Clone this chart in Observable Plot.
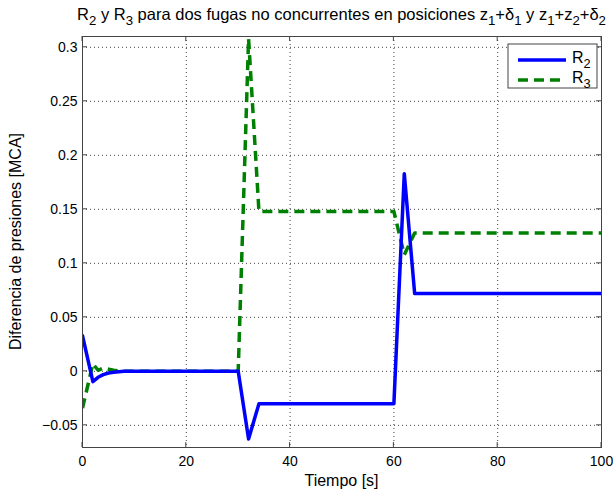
<!DOCTYPE html>
<html>
<head>
<meta charset="utf-8">
<script src="https://cdn.jsdelivr.net/npm/d3@7"></script>
<script src="https://cdn.jsdelivr.net/npm/@observablehq/plot@0.6"></script>
<style>
  html, body { margin: 0; padding: 0; background: #fff; }
  svg { display: block; }
</style>
</head>
<body>
<div id="chart"></div>
<script>
// ---- data ----
const timeR2 = [0, 2, 3, 4, 5, 6, 8, 30, 32, 34, 60, 62, 64, 100];
const valR2  = [0.033, -0.0095, -0.0055, -0.003, -0.0015, -0.0008, 0, 0, -0.0626, -0.030, -0.030, 0.183, 0.072, 0.072];
const timeR3 = [0, 2, 3, 4, 5, 6, 8, 30, 32, 34, 60, 62, 64, 100];
const valR3  = [-0.034, 0.007, 0.001, 0.003, 0.002, 0.001, 0, 0, 0.308, 0.148, 0.148, 0.108, 0.128, 0.128];
const xTicks = [0, 20, 40, 60, 80, 100];
const yTicks = [-0.05, 0, 0.05, 0.1, 0.15, 0.2, 0.25, 0.3];
const seriesNames = ["R", "R"];
const seriesSubs = ["2", "3"];

const r2 = timeR2.map((t, i) => ({t, v: valR2[i]}));
const r3 = timeR3.map((t, i) => ({t, v: valR3[i]}));

const W = 613, H = 496;
const fmt = d => d === 0 ? "0" : String(+d.toFixed(2)).replace("-", "\u2212");
const font = "'Liberation Sans', Arial, Helvetica, sans-serif";

const plot = Plot.plot({
  width: W, height: H,
  marginLeft: 82, marginRight: 12, marginTop: 36, marginBottom: 49,
  style: {fontFamily: font, fontSize: "14px", background: "#fff", color: "#000"},
  x: {domain: [0, 100], ticks: xTicks},
  y: {domain: [-0.0705, 0.31], ticks: yTicks},
  marks: [
    Plot.gridX(xTicks, {stroke: "#000", strokeOpacity: 0.75, strokeDasharray: "1,3"}),
    Plot.gridY(yTicks, {stroke: "#000", strokeOpacity: 0.75, strokeDasharray: "1,3"}),
    Plot.axisX(xTicks, {tickSize: 0, tickPadding: 9, tickFormat: d => String(d), fontSize: 14, label: null}),
    Plot.axisY(yTicks, {tickSize: 0, tickPadding: 5, tickFormat: fmt, fontSize: 14, label: null}),
    Plot.line(r3, {x: "t", y: "v", stroke: "#008000", strokeWidth: 3.5, strokeDasharray: "10,6", strokeLinecap: "butt", clip: true}),
    Plot.line(r2, {x: "t", y: "v", stroke: "#0000ff", strokeWidth: 3.5, clip: true}),
    Plot.frame({stroke: "#444", strokeWidth: 1})
  ]
});

const svg = d3.select(plot);

// inner tick marks (MATLAB style) on all four sides
const x0 = 82, x1 = W - 12, y0 = 36, y1 = H - 49;
const xs = d3.scaleLinear([0, 100], [x0, x1]);
const ys = d3.scaleLinear([-0.0705, 0.31], [y1, y0]);
const tk = svg.append("g").attr("stroke", "#444").attr("stroke-width", 1);
xTicks.forEach(v => {
  tk.append("line").attr("x1", xs(v)).attr("x2", xs(v)).attr("y1", y1).attr("y2", y1 - 5);
  tk.append("line").attr("x1", xs(v)).attr("x2", xs(v)).attr("y1", y0).attr("y2", y0 + 5);
});
yTicks.forEach(v => {
  tk.append("line").attr("x1", x0).attr("x2", x0 + 5).attr("y1", ys(v)).attr("y2", ys(v));
  tk.append("line").attr("x1", x1).attr("x2", x1 - 5).attr("y1", ys(v)).attr("y2", ys(v));
});

// text with subscripts: parts = [[text, isSub], ...]
function richText(g, parts, size, subScale = 0.8) {
  const t = g.append("text").attr("font-family", font).attr("font-size", size).attr("fill", "#000");
  let prevSub = false;
  parts.forEach(([s, sub]) => {
    const ts = t.append("tspan").text(s);
    if (sub) ts.attr("font-size", size * subScale).attr("dy", prevSub ? 0 : size * 0.32);
    else ts.attr("dy", prevSub ? -size * 0.32 : 0);
    prevSub = sub;
  });
  return t;
}

// title
const title = richText(svg.append("g"), [
  ["R", false], ["2", true], [" y R", false], ["3", true],
  [" para dos fugas no concurrentes en posiciones z", false], ["1", true],
  ["+δ", false], ["1", true], [" y z", false], ["1", true], ["+z", false], ["2", true],
  ["+δ", false], ["2", true]
], 16.5);
title.attr("x", (x0 + x1) / 2).attr("y", 20).attr("text-anchor", "middle");

// axis labels
svg.append("text").attr("x", (x0 + x1) / 2).attr("y", 486).attr("text-anchor", "middle")
  .attr("font-family", font).attr("font-size", 16).attr("fill", "#000").text("Tiempo [s]");
svg.append("text").attr("transform", `translate(21,${(y0 + y1) / 2}) rotate(-90)`).attr("text-anchor", "middle")
  .attr("font-family", font).attr("font-size", 16).attr("fill", "#000").text("Diferencia de presiones [MCA]");

// legend
const lg = svg.append("g");
lg.append("rect").attr("x", 508).attr("y", 44).attr("width", 89).attr("height", 44)
  .attr("fill", "#fff").attr("stroke", "#444").attr("stroke-width", 1);
lg.append("line").attr("x1", 518).attr("x2", 566).attr("y1", 60).attr("y2", 60)
  .attr("stroke", "#0000ff").attr("stroke-width", 3.5);
lg.append("line").attr("x1", 518).attr("x2", 566).attr("y1", 80).attr("y2", 80)
  .attr("stroke", "#008000").attr("stroke-width", 3.5).attr("stroke-dasharray", "10,6");
richText(lg, [[seriesNames[0], false], [seriesSubs[0], true]], 16).attr("x", 572).attr("y", 63).attr("text-anchor", "start");
richText(lg, [[seriesNames[1], false], [seriesSubs[1], true]], 16).attr("x", 572).attr("y", 83).attr("text-anchor", "start");

document.getElementById("chart").appendChild(plot);
</script>
</body>
</html>
